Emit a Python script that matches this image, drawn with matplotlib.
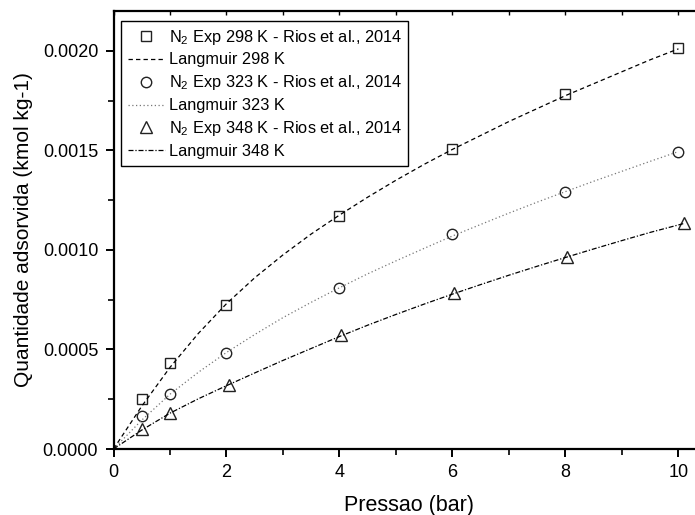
import matplotlib
matplotlib.use("Agg")
import matplotlib.pyplot as plt
from matplotlib.ticker import MultipleLocator, FormatStrFormatter

plt.rcParams['font.family'] = ['Liberation Sans', 'DejaVu Sans']
plt.rcParams['mathtext.fontset'] = 'custom'
plt.rcParams['mathtext.rm'] = 'Liberation Sans'
plt.rcParams['mathtext.it'] = 'Liberation Sans:italic'

# Experimental points (Rios et al., 2014), pressure in bar, uptake in kmol/kg
p_298 = [0.5, 1, 2, 4, 6, 8, 10]
q_298 = [0.000251, 0.000431, 0.000722, 0.001168, 0.001509, 0.001785, 0.002015]

p_323 = [0.5, 1, 2, 4, 6, 8, 10]
q_323 = [0.000165, 0.000276, 0.000481, 0.000807, 0.001078, 0.001293, 0.001494]

p_348 = [0.5, 1, 2.04, 4.02, 6.02, 8.02, 10.1]
q_348 = [0.000100, 0.000180, 0.000321, 0.000571, 0.000782, 0.000962, 0.001133]

# Langmuir fitted curves
pl_298 = [0, 0.5, 1, 1.5, 2, 2.5, 3, 3.5, 4, 4.5, 5, 5.5, 6, 6.5, 7, 7.5, 8, 8.5, 9, 9.5, 10]
ql_298 = [0, 0.000215, 0.000410, 0.000580, 0.000730, 0.000860, 0.000975, 0.001080,
          0.001175, 0.001265, 0.001350, 0.001430, 0.001505, 0.001575, 0.001645,
          0.001710, 0.001775, 0.001835, 0.001895, 0.001955, 0.002010]

pl_323 = [0, 0.5, 1, 1.5, 2, 2.5, 3, 3.5, 4, 4.5, 5, 5.5, 6, 6.5, 7, 7.5, 8, 8.5, 9, 9.5, 10]
ql_323 = [0, 0.000145, 0.000275, 0.000385, 0.000485, 0.000575, 0.000660, 0.000737,
          0.000810, 0.000880, 0.000945, 0.001008, 0.001070, 0.001128, 0.001185,
          0.001240, 0.001293, 0.001345, 0.001395, 0.001445, 0.001494]

pl_348 = [0, 0.5, 1, 1.5, 2, 2.5, 3, 3.5, 4, 4.5, 5, 5.5, 6, 6.5, 7, 7.5, 8, 8.5, 9, 9.5, 10.1]
ql_348 = [0, 0.000095, 0.000180, 0.000252, 0.000318, 0.000382, 0.000445, 0.000505,
          0.000565, 0.000622, 0.000676, 0.000728, 0.000778, 0.000826, 0.000873,
          0.000918, 0.000962, 0.001005, 0.001047, 0.001088, 0.001133]

fig = plt.figure(figsize=(6.95, 5.15), dpi=100)
# axes run a little past the right edge of the figure
ax = fig.add_axes([113.5 / 695, 66 / 515, 590 / 695, 438 / 515])

mk = dict(linestyle='none', markerfacecolor='none', markeredgecolor='#222222',
          markeredgewidth=1.0)

ax.plot(p_298, q_298, marker='s', markersize=7, label=r'N$_2$ Exp 298 K - Rios et al., 2014', **mk)
ax.plot(pl_298, ql_298, color='black', linewidth=0.9, linestyle=(0, (3.5, 2.5)),
        label='Langmuir 298 K')
ax.plot(p_323, q_323, marker='o', markersize=7.5, label=r'N$_2$ Exp 323 K - Rios et al., 2014', **mk)
ax.plot(pl_323, ql_323, color='#777777', linewidth=0.9, linestyle=(0, (1, 2)),
        label='Langmuir 323 K')
ax.plot(p_348, q_348, marker='^', markersize=8.5, label=r'N$_2$ Exp 348 K - Rios et al., 2014', **mk)
ax.plot(pl_348, ql_348, color='black', linewidth=0.9, linestyle=(0, (4, 1.5, 1, 1.5)),
        label='Langmuir 348 K')

ax.set_xlim(0, 10.443)
ax.set_ylim(0, 0.0022)

ax.xaxis.set_major_locator(MultipleLocator(2))
ax.xaxis.set_minor_locator(MultipleLocator(1))
ax.yaxis.set_major_locator(MultipleLocator(0.0005))
ax.yaxis.set_minor_locator(MultipleLocator(0.00025))
ax.yaxis.set_major_formatter(FormatStrFormatter('%.4f'))

for s in ax.spines.values():
    s.set_linewidth(1.6)

ax.tick_params(which='major', direction='out', length=6, width=1.4, labelsize=13, pad=5)
ax.tick_params(which='minor', direction='out', length=4, width=1.2)

# small inward ticks along the top edge
top = ax.secondary_xaxis('top')
top.xaxis.set_major_locator(MultipleLocator(1))
top.tick_params(direction='in', length=3, width=1.0, labeltop=False)
top.spines['top'].set_visible(False)

ax.set_xlabel('Pressao (bar)', fontsize=15.5, labelpad=10)
ax.set_ylabel('Quantidade adsorvida (kmol kg-1)', fontsize=15, labelpad=7)

leg = ax.legend(loc='upper left', bbox_to_anchor=(7.5 / 590, 1 - 10 / 438),
                fontsize=11.8, frameon=True, fancybox=False, edgecolor='black',
                framealpha=1, borderpad=0.4, labelspacing=0.36, handlelength=2.3,
                handletextpad=0.2, borderaxespad=0, numpoints=1)
leg.get_frame().set_linewidth(1.0)

fig.savefig('out.png', dpi=100)
